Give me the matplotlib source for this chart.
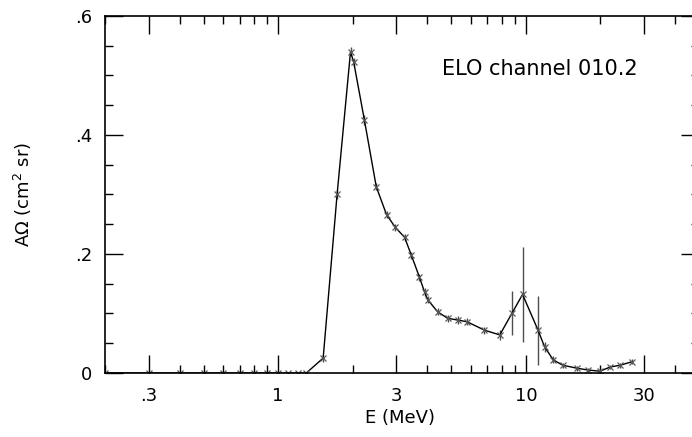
import matplotlib.pyplot as plt
from matplotlib.ticker import FixedLocator, FixedFormatter, NullFormatter

plt.rcParams["font.family"] = ["DejaVu Sans"]

# energies (MeV) and geometric factor A-Omega (cm^2 sr)
energy = [0.2, 0.3, 0.4, 0.5, 0.6, 0.7, 0.8, 0.9, 1.0, 1.1, 1.2, 1.3,
          1.52, 1.73, 1.96, 2.02, 2.23, 2.49, 2.74, 2.97, 3.24, 3.45,
          3.72, 3.9, 4.02, 4.4, 4.83, 5.3, 5.8, 6.8, 7.85, 8.78, 9.7,
          11.2, 11.9, 12.9, 14.1, 16.1, 17.8, 19.9, 21.9, 24.0, 26.9]
a_omega = [0.0, 0.0, 0.0, 0.0, 0.0, 0.0, 0.0, 0.0, 0.0, 0.0, 0.0, 0.0,
           0.025, 0.30, 0.54, 0.522, 0.425, 0.313, 0.266, 0.245, 0.228, 0.198,
           0.161, 0.136, 0.123, 0.103, 0.092, 0.089, 0.086, 0.072, 0.064, 0.10, 0.132,
           0.072, 0.044, 0.022, 0.013, 0.008, 0.005, 0.003, 0.01, 0.013, 0.019]
a_err = [0.0, 0.0, 0.0, 0.0, 0.0, 0.0, 0.0, 0.0, 0.0, 0.0, 0.0, 0.0,
         0.006, 0.008, 0.008, 0.008, 0.008, 0.006, 0.006, 0.006, 0.006, 0.006,
         0.006, 0.006, 0.006, 0.006, 0.006, 0.006, 0.006, 0.006, 0.008, 0.037, 0.08,
         0.058, 0.008, 0.006, 0.004, 0.004, 0.004, 0.004, 0.004, 0.004, 0.004]

x_major = [0.3, 1, 3, 10, 30]
x_major_labels = [".3", "1", "3", "10", "30"]
x_minor = [0.2, 0.4, 0.5, 0.6, 0.7, 0.8, 0.9, 2, 4, 5, 6, 7, 8, 9, 20, 40]
y_major = [0, 0.2, 0.4, 0.6]
y_major_labels = ["0", ".2", ".4", ".6"]
y_minor = [0.05, 0.1, 0.15, 0.25, 0.3, 0.35, 0.45, 0.5, 0.55]

fig = plt.figure(figsize=(6.92, 4.37), dpi=100)
ax = fig.add_axes([0.1517, 0.1465, 0.8584, 0.8169])

ax.errorbar(energy, a_omega, yerr=a_err, color="black", lw=1.0,
            marker="x", ms=4.5, mew=0.9, mec="0.35",
            ecolor="0.3", elinewidth=1.0, capsize=0)

ax.set_xscale("log")
ax.set_xlim(0.2, 50)
ax.set_ylim(0, 0.6)

ax.xaxis.set_major_locator(FixedLocator(x_major))
ax.xaxis.set_major_formatter(FixedFormatter(x_major_labels))
ax.xaxis.set_minor_locator(FixedLocator(x_minor))
ax.xaxis.set_minor_formatter(NullFormatter())
ax.yaxis.set_major_locator(FixedLocator(y_major))
ax.yaxis.set_major_formatter(FixedFormatter(y_major_labels))
ax.yaxis.set_minor_locator(FixedLocator(y_minor))

ax.tick_params(which="both", direction="in", top=True, right=True,
               width=1.0, labelsize=13)
ax.tick_params(which="major", length=13)
ax.tick_params(which="minor", length=6)
ax.tick_params(axis="x", pad=10)
ax.tick_params(axis="y", pad=9)
for sp in ax.spines.values():
    sp.set_linewidth(1.2)

ax.text(0.568, 0.835, "ELO channel 010.2", transform=ax.transAxes, fontsize=15)
ax.set_xlabel("E (MeV)", fontsize=13)
ax.set_ylabel("A\u03a9 (cm$^2$ sr)", fontsize=13)
ax.xaxis.set_label_coords(0.497, -0.10)
ax.yaxis.set_label_coords(-0.12, 0.5)

fig.savefig("out.png", dpi=100)
